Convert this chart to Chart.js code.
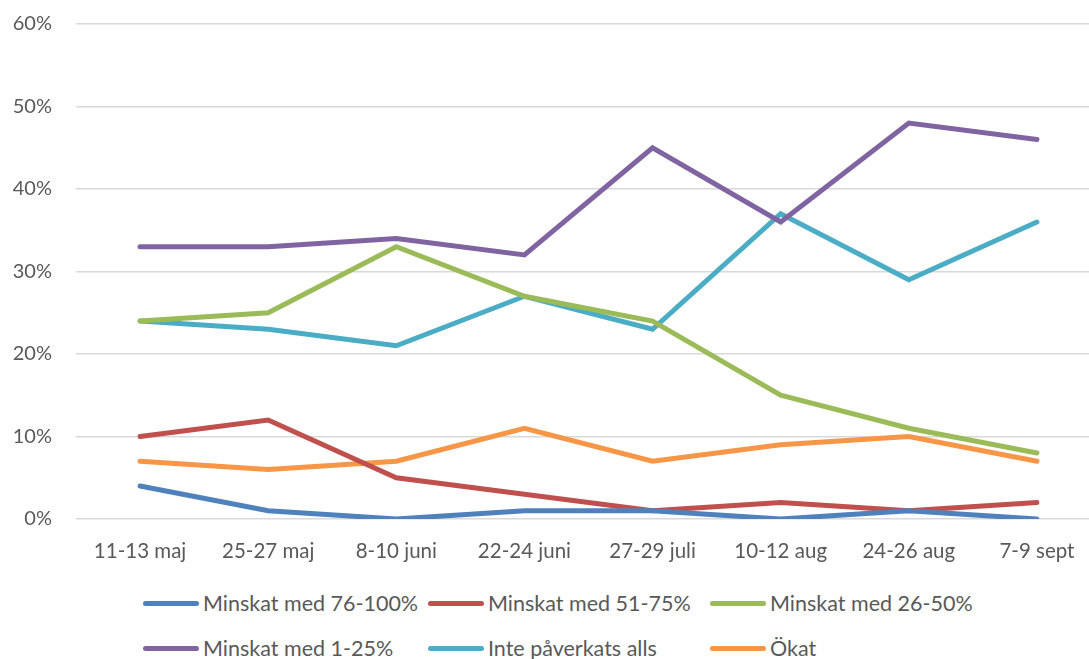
<!DOCTYPE html>
<html lang="sv">
<head>
  <meta charset="UTF-8" />
  <title>Minskat / ökat</title>
  <script src="https://cdn.jsdelivr.net/npm/chart.js"></script>
  <style>
    html, body {
      margin: 0;
      padding: 0;
      background: #fff;
      overflow: hidden;
      width: 1089px;
      height: 659px;
      font-family: Lato, "Liberation Sans", sans-serif;
      color: #595959;
    }
    .chart-box {
      position: absolute;
      left: 0;
      top: -12px;
      width: 1101px;
      height: 587px;
    }
    .legend {
      position: absolute;
      left: 0;
      top: 0;
    }
    .legend .item {
      position: absolute;
      display: flex;
      align-items: center;
      font-size: 21.5px;
      white-space: nowrap;
      transform: translateY(-50%);
    }
    .legend .swatch {
      width: 56px;
      height: 5px;
      border-radius: 3px;
      margin-right: 4px;
    }
  </style>
</head>
<body>
  <div class="chart-box"><canvas id="chart"></canvas></div>
  <div class="legend" id="legend"></div>

  <script>
    const categories = ['11-13 maj', '25-27 maj', '8-10 juni', '22-24 juni', '27-29 juli', '10-12 aug', '24-26 aug', '7-9 sept'];

    const minskat76_100 = [4, 1, 0, 1, 1, 0, 1, 0];
    const minskat51_75 = [10, 12, 5, 3, 1, 2, 1, 2];
    const minskat26_50 = [24, 25, 33, 27, 24, 15, 11, 8];
    const minskat1_25 = [33, 33, 34, 32, 45, 36, 48, 46];
    const intePaverkats = [24, 23, 21, 27, 23, 37, 29, 36];
    const okat = [7, 6, 7, 11, 7, 9, 10, 7];

    const seriesNames = ['Minskat med 76-100%', 'Minskat med 51-75%', 'Minskat med 26-50%',
                         'Minskat med 1-25%', 'Inte påverkats alls', 'Ökat'];
    const seriesData = [minskat76_100, minskat51_75, minskat26_50, minskat1_25, intePaverkats, okat];
    const seriesColors = ['#4F81BD', '#C0504D', '#9BBB59', '#8064A2', '#4BACC6', '#F79646'];

    // draw order: later series on top, same as the original
    const datasets = seriesNames.map((name, i) => ({
      label: name,
      data: seriesData[i],
      borderColor: seriesColors[i],
      backgroundColor: seriesColors[i],
      borderWidth: 5,
      borderCapStyle: 'round',
      borderJoinStyle: 'miter',
      pointRadius: 0,
      tension: 0,
      fill: false
    }));

    const tickFont = { family: 'Lato, "Liberation Sans", sans-serif', size: 20 };

    new Chart(document.getElementById('chart'), {
      type: 'line',
      data: { labels: categories, datasets: datasets },
      options: {
        responsive: true,
        maintainAspectRatio: false,
        animation: false,
        layout: { padding: { top: 11, right: 0, left: 0, bottom: 0 } },
        plugins: {
          legend: { display: false },
          tooltip: { enabled: false }
        },
        scales: {
          x: {
            offset: true,
            grid: { display: false, drawTicks: false },
            border: { display: false },
            ticks: { color: '#595959', font: { family: tickFont.family, size: 20.5 }, padding: 20, maxRotation: 0 },
            afterFit: s => { s.height = 56; }
          },
          y: {
            min: 0,
            max: 60,
            grid: { color: '#D9D9D9', lineWidth: 1.5, drawTicks: false },
            border: { display: false },
            ticks: {
              stepSize: 10,
              color: '#595959',
              font: tickFont,
              padding: 24,
              callback: v => v + '%'
            },
            afterFit: s => { s.width = 76; }
          }
        }
      }
    });

    // legend laid out in three columns like the original
    const legendCols = [143, 428, 710];
    const legendRows = [603, 648];
    const legendEl = document.getElementById('legend');
    seriesNames.forEach((name, i) => {
      const item = document.createElement('div');
      item.className = 'item';
      item.style.left = legendCols[i % 3] + 'px';
      item.style.top = legendRows[Math.floor(i / 3)] + 'px';
      const sw = document.createElement('span');
      sw.className = 'swatch';
      sw.style.background = seriesColors[i];
      const txt = document.createElement('span');
      txt.textContent = name;
      item.appendChild(sw);
      item.appendChild(txt);
      legendEl.appendChild(item);
    });
  </script>
</body>
</html>
